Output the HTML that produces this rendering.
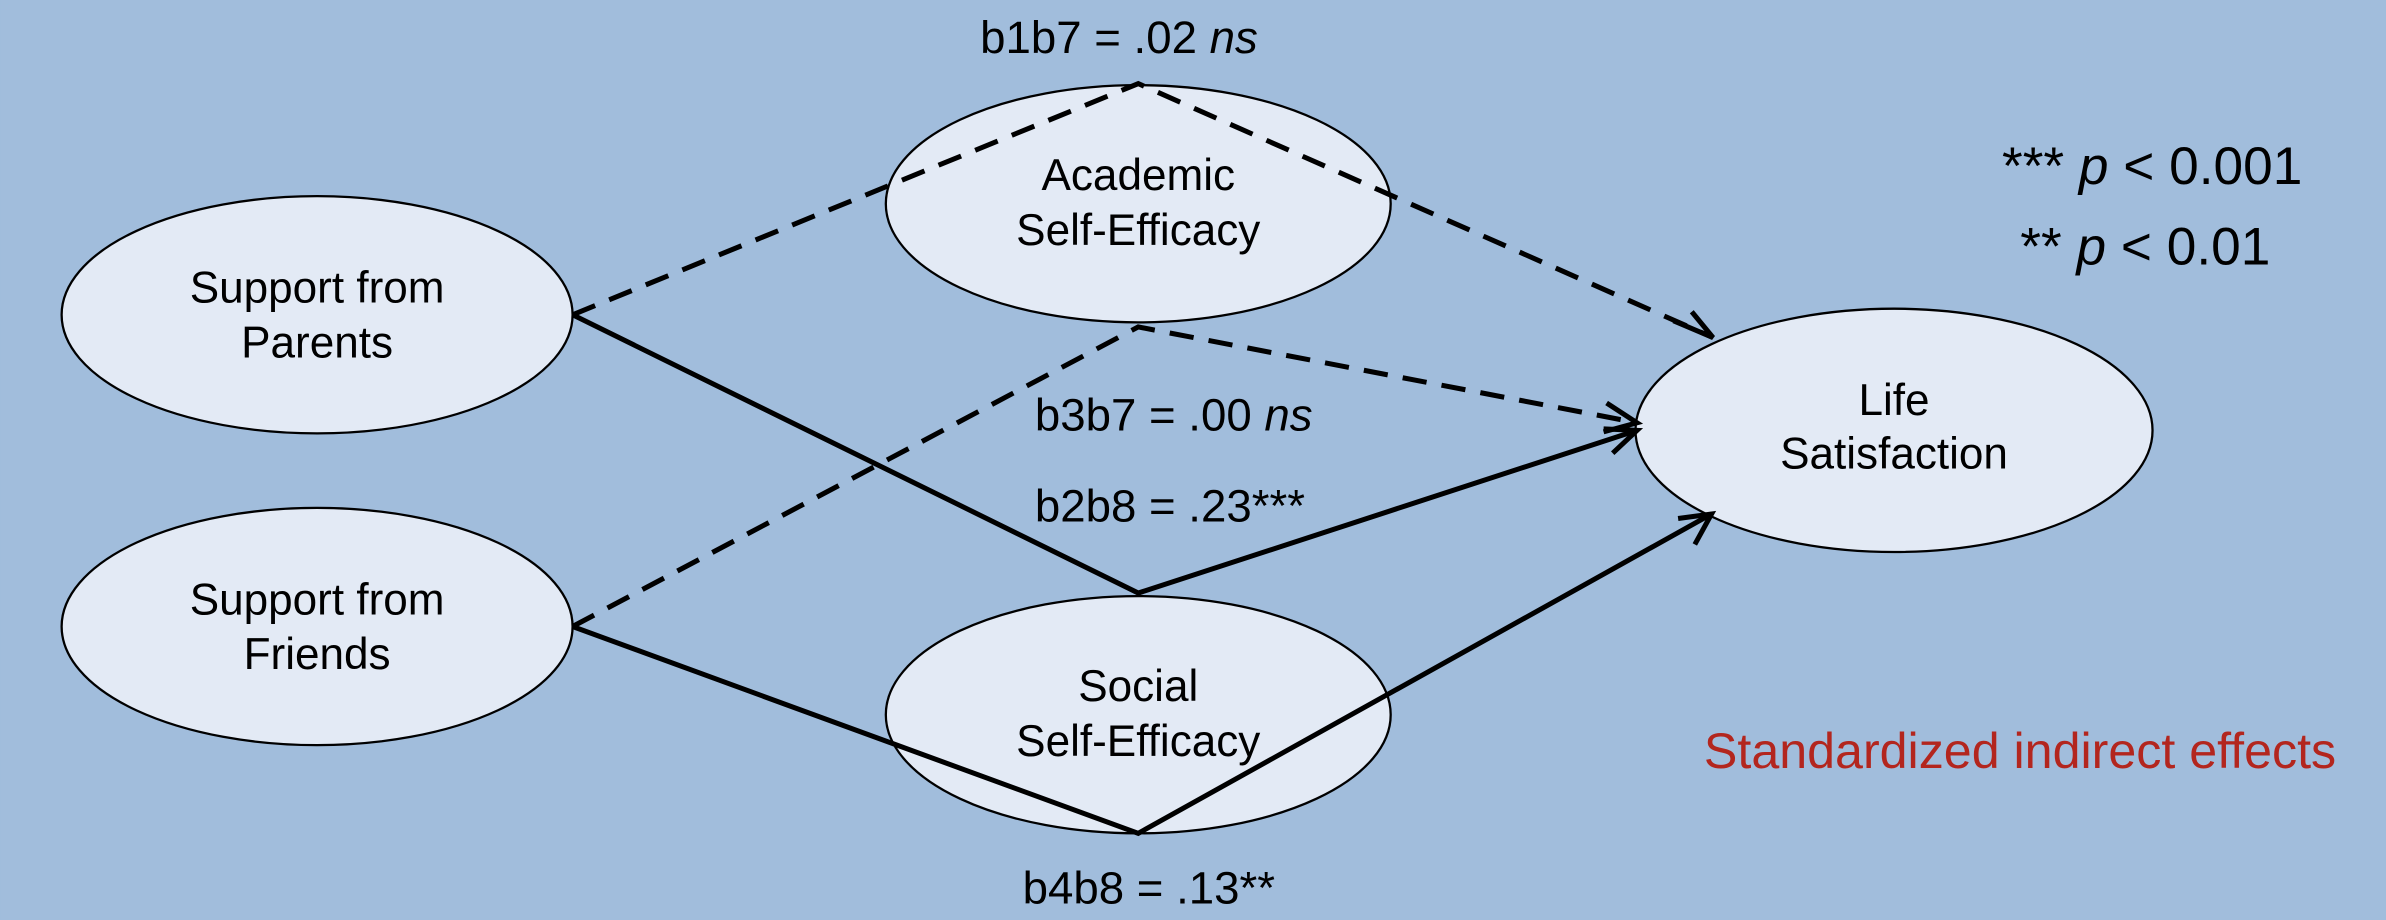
<!DOCTYPE html>
<html><head><meta charset="utf-8"><style>
html,body{margin:0;padding:0;background:#a1bddc;}
svg{display:block}
text{font-family:"Liberation Sans",sans-serif;fill:#000}
</style></head><body>
<svg width="2386" height="920" viewBox="0 0 1568 605" xmlns="http://www.w3.org/2000/svg">
<rect width="1568" height="605" fill="#a1bddc"/>
<g stroke="#000" stroke-width="1.5" fill="#e3eaf5">
<ellipse cx="208" cy="207" rx="168" ry="78"/>
<ellipse cx="208" cy="412" rx="168" ry="78"/>
<ellipse cx="748" cy="134" rx="166" ry="78"/>
<ellipse cx="748" cy="470" rx="166" ry="78"/>
<ellipse cx="1245" cy="283" rx="170" ry="80"/>
</g>
<g fill="none" stroke="#000" stroke-width="3.3">
<path d="M376,207 L748,55 L1126,222" stroke-dasharray="16,10"/>
<path d="M1100,211 L1126,222 L1112,205"/>
<path d="M376,412 L748,215 L1076,278" stroke-dasharray="16,10"/>
<path d="M1056,265 L1076,278 L1054,284"/>
<path d="M376,207 L748,390 L1076,283"/>
<path d="M1054,282 L1076,283 L1060,298"/>
<path d="M376,412 L748,548 L1125,338"/>
<path d="M1103,341 L1125,338 L1114,358"/>
</g>
<g font-size="29" text-anchor="middle">
<text x="208" y="199">Support from</text><text x="208" y="235">Parents</text>
<text x="208" y="404">Support from</text><text x="208" y="440">Friends</text>
<text x="748" y="125">Academic</text><text x="748" y="161">Self-Efficacy</text>
<text x="748" y="461">Social</text><text x="748" y="497">Self-Efficacy</text>
<text x="1245" y="273">Life</text><text x="1245" y="308">Satisfaction</text>
</g>
<g font-size="30">
<text x="644" y="35">b1b7 = .02 <tspan font-style="italic">ns</tspan></text>
<text x="680" y="283">b3b7 = .00 <tspan font-style="italic">ns</tspan></text>
<text x="680" y="343">b2b8 = .23***</text>
<text x="672" y="594">b4b8 = .13**</text>
</g>
<g font-size="35">
<text x="1316" y="121">*** <tspan font-style="italic">p</tspan> &lt; 0.001</text>
<text x="1328" y="174">** <tspan font-style="italic">p</tspan> &lt; 0.01</text>
</g>
<text x="1120" y="505" font-size="33" style="fill:#b3261e">Standardized indirect effects</text>
</svg>
</body></html>
